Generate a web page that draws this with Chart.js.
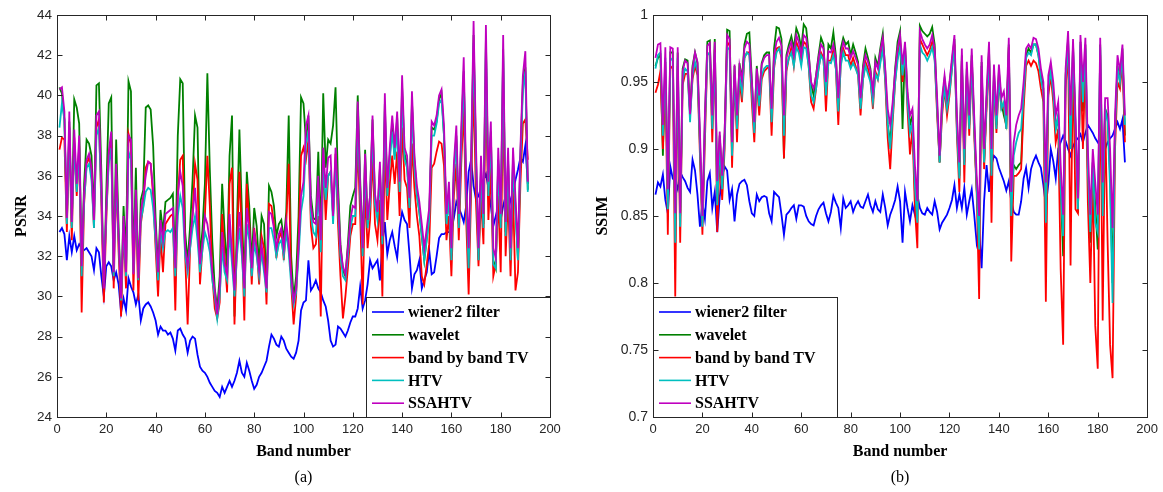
<!DOCTYPE html>
<html>
<head>
<meta charset="utf-8">
<script src="https://cdn.jsdelivr.net/npm/chart.js@4"></script>
<style>
  body { margin: 0; background: #fff; }
  .panel { position: absolute; top: 0; height: 492px; }
  #left { left: 0; width: 580px; }
  #right { left: 581px; width: 582px; }
</style>
</head>
<body>
<div class="panel" id="left"><canvas id="psnrChart"></canvas></div>
<div class="panel" id="right"><canvas id="ssimChart"></canvas></div>
<script>
const methods = ["wiener2 filter", "wavelet", "band by band TV", "HTV", "SSAHTV"];
const colors = ["#0000ff", "#008000", "#ff0000", "#00bfbf", "#bf00bf"];

const xTicks = [0, 200, 20];
const psnrTicks = [24, 44, 2];
const ssimTicks = [0.7, 1, 0.05];

// PSNR per band (bands 1..191)
const psnrWiener = [
  33.2, 33.4, 33.1, 31.8, 33.0, 32.2, 33.0, 32.3, 32.6, 32.4,
  32.3, 32.4, 32.2, 32.0, 31.3, 32.4, 32.2, 31.0, 30.0, 31.5,
  31.7, 31.5, 30.8, 31.2, 30.6, 29.2, 29.9, 29.3, 30.9, 30.5,
  30.2, 29.6, 30.1, 28.8, 29.4, 29.6, 29.7, 29.5, 29.2, 28.8,
  28.1, 28.5, 28.3, 28.3, 28.1, 28.2, 27.9, 27.3, 28.3, 28.4,
  28.1, 27.9, 27.2, 27.8, 28.0, 27.9, 27.1, 26.5, 26.3, 26.2,
  26.0, 25.7, 25.5, 25.3, 25.2, 25.0, 25.5, 25.2, 25.5, 25.8,
  25.5, 25.8, 26.2, 26.8, 26.2, 26.0, 26.7, 26.3, 25.8, 25.4,
  25.6, 26.0, 26.2, 26.5, 26.8, 27.5, 28.1, 27.9, 27.6, 27.5,
  28.0, 27.8, 27.4, 27.2, 27.0, 26.9, 27.2, 27.8, 29.3, 29.7,
  29.8, 31.8, 30.3, 30.5, 30.8, 30.4, 30.2, 29.8, 29.5, 28.8,
  27.8, 27.5, 27.6, 28.5, 28.4, 28.2, 28.0, 28.3, 28.7, 29.0,
  29.0, 29.4, 30.5, 29.4, 29.8, 30.6, 31.8, 31.4, 31.6, 31.8,
  30.8, 32.6, 33.7, 32.1, 32.8, 33.2, 32.5, 31.9, 33.4, 34.2,
  33.8, 33.6, 32.1, 30.4, 31.1, 31.3, 31.8, 30.4, 30.8, 31.2,
  32.3, 31.1, 31.2, 32.0, 32.9, 33.1, 33.1, 33.2, 33.2, 33.3,
  33.9, 34.7, 34.4, 34.1, 33.7, 34.5, 36.2, 36.8, 35.5, 34.8,
  35.0, 35.4, 35.8, 36.1, 35.4, 34.5, 33.5, 34.0, 34.5, 33.8,
  34.5, 35.0, 34.2, 34.8, 35.2, 35.8, 36.3, 36.9, 36.7, 37.5,
  35.6
];
const psnrWavelet = [
  40.4, 40.1, 38.8, 33.6, 38.7, 33.5, 39.8, 39.4, 38.6, 31.7,
  35.6, 37.8, 37.6, 37.0, 34.0, 40.5, 40.6, 36.2, 30.2, 35.2,
  39.6, 39.9, 31.5, 37.8, 33.4, 29.8, 34.5, 32.0, 40.7, 40.2,
  31.5, 36.4, 30.8, 34.8, 35.3, 39.4, 39.5, 39.3, 37.5, 33.9,
  31.4, 34.3, 33.2, 34.7, 34.8, 34.9, 35.1, 31.6, 38.0, 40.8,
  40.6, 33.2, 31.7, 33.5, 35.8, 39.0, 38.4, 31.9, 33.3, 35.6,
  41.1, 36.3, 32.7, 30.4, 29.4, 31.0, 35.6, 33.2, 31.3, 37.0,
  39.0, 29.0, 33.6, 38.3, 34.2, 30.6, 36.2, 34.5, 31.6, 34.4,
  33.5, 31.5, 34.0, 33.6, 30.4, 35.5, 35.2, 34.5, 33.0, 33.6,
  33.8, 32.8, 34.2, 39.0, 32.0, 29.9, 31.0, 34.0, 39.9, 39.6,
  37.7, 39.0, 35.0, 33.9, 33.8, 37.2, 33.0, 40.1, 36.4, 37.8,
  37.6, 38.5, 40.4, 35.6, 32.6, 31.3, 31.0, 32.6, 34.5, 35.0,
  35.4, 40.0, 35.8, 32.5, 37.3, 33.6, 35.0, 38.8, 34.9, 34.0,
  36.4, 32.8, 39.6, 35.0, 37.0, 38.6, 37.0, 38.9, 35.4, 40.4,
  37.1, 36.6, 34.6, 39.7, 36.8, 35.1, 34.2, 33.0, 31.8, 32.9,
  34.0, 38.4, 38.3, 38.7, 39.8, 40.1, 38.0, 33.6, 35.1, 32.0,
  36.2, 38.0, 33.6, 37.9, 41.2, 35.1, 31.6, 36.4, 43.0, 36.8,
  31.8, 36.4, 33.6, 42.8, 35.1, 38.2, 31.8, 31.4, 36.8, 33.6,
  42.3, 33.2, 36.8, 31.8, 36.9, 34.4, 31.8, 37.0, 40.6, 41.4,
  35.3
];
const psnrBandTV = [
  37.3, 37.9, 37.8, 33.2, 38.4, 32.8, 37.9, 35.0, 37.5, 29.2,
  34.6, 36.6, 36.9, 36.1, 33.4, 38.4, 38.8, 34.5, 29.7, 33.8,
  37.0, 37.8, 30.4, 36.0, 32.2, 29.0, 33.4, 30.4, 38.1, 37.6,
  30.3, 34.6, 29.8, 33.6, 34.5, 36.4, 36.7, 36.6, 35.0, 32.4,
  30.0, 33.0, 31.2, 33.6, 33.8, 34.0, 34.1, 29.3, 35.0, 36.8,
  37.0, 32.0, 28.6, 32.4, 34.1, 36.6, 35.8, 30.6, 32.4, 34.0,
  37.0, 34.5, 31.0, 29.4, 28.9, 29.7, 34.1, 32.0, 30.2, 35.6,
  36.4, 28.6, 32.6, 36.2, 33.0, 28.8, 35.6, 33.6, 30.6, 33.4,
  32.4, 30.6, 33.0, 32.4, 29.6, 34.6, 34.5, 33.6, 31.9, 32.9,
  33.2, 31.8, 33.6, 36.6, 30.6, 28.6, 30.0, 32.8, 37.0, 37.4,
  36.8, 37.8, 33.5, 32.4, 32.6, 34.0, 29.0, 37.0, 33.8, 36.0,
  36.2, 34.0, 37.1, 33.6, 31.0, 28.9, 30.0, 31.4, 33.0, 33.6,
  33.6, 37.6, 34.0, 29.6, 35.4, 32.4, 33.8, 37.0, 33.6, 32.8,
  34.8, 30.0, 37.6, 33.8, 35.6, 37.0, 35.6, 37.2, 34.0, 38.4,
  35.8, 35.4, 33.4, 37.6, 35.4, 34.0, 33.0, 31.0, 30.6, 31.6,
  32.6, 36.4, 36.6, 37.2, 37.7, 37.6, 36.5, 32.8, 34.0, 31.0,
  35.0, 36.6, 32.8, 36.6, 39.4, 33.8, 30.1, 35.2, 40.6, 34.6,
  31.5, 35.0, 32.6, 40.4, 33.8, 36.4, 31.0, 31.6, 35.0, 31.2,
  39.8, 32.0, 35.0, 31.0, 35.2, 30.3, 31.2, 35.6, 38.6, 38.8,
  36.8
];
const psnrHTV = [
  38.4, 39.6, 38.8, 33.6, 38.4, 33.4, 37.6, 35.2, 37.4, 31.0,
  34.8, 36.4, 36.6, 35.8, 33.4, 38.0, 38.4, 35.0, 30.6, 34.2,
  36.6, 37.4, 31.0, 36.0, 32.8, 29.8, 33.6, 31.0, 37.2, 36.8,
  31.2, 34.8, 30.8, 33.8, 34.4, 35.2, 35.4, 35.3, 34.4, 32.8,
  30.8, 33.2, 32.4, 33.2, 33.3, 33.2, 33.4, 31.0, 34.0, 35.0,
  34.4, 32.0, 31.2, 32.4, 33.4, 34.0, 32.8, 31.2, 32.3, 33.2,
  32.8, 32.2, 30.8, 30.0, 28.9, 30.0, 32.4, 31.2, 30.8, 33.2,
  31.6, 30.0, 32.0, 33.4, 32.0, 30.0, 33.6, 32.8, 31.0, 32.6,
  32.0, 31.0, 32.2, 31.2, 30.2, 33.4, 33.4, 32.8, 32.0, 32.6,
  32.8, 32.0, 33.2, 32.2, 30.6, 29.6, 30.2, 32.0, 34.2, 35.0,
  37.6, 38.2, 34.0, 33.2, 33.0, 35.2, 32.2, 36.4, 34.8, 36.0,
  36.2, 33.6, 36.6, 34.4, 32.0, 31.0, 30.8, 32.0, 33.4, 34.0,
  34.0, 38.8, 35.0, 32.0, 36.4, 33.4, 34.6, 38.2, 34.6, 33.8,
  36.0, 32.6, 39.2, 35.0, 36.8, 38.2, 36.8, 38.4, 35.2, 40.0,
  36.8, 36.4, 34.4, 39.4, 36.4, 35.0, 34.2, 33.0, 31.8, 32.8,
  33.8, 38.0, 38.0, 38.6, 39.6, 39.8, 38.0, 33.6, 35.0, 31.8,
  36.0, 37.8, 33.4, 37.6, 41.0, 35.0, 31.4, 36.2, 42.6, 36.6,
  31.8, 36.2, 33.4, 42.4, 35.0, 38.0, 31.6, 31.4, 36.6, 33.4,
  42.0, 33.0, 36.6, 31.8, 36.6, 34.2, 31.8, 36.8, 40.2, 41.2,
  35.2
];
const psnrSSAHTV = [
  40.3, 40.4, 39.2, 33.9, 39.2, 33.7, 38.3, 35.6, 38.0, 31.5,
  35.2, 36.8, 37.1, 36.4, 33.8, 39.0, 39.2, 35.5, 30.4, 34.5,
  37.2, 38.2, 31.2, 36.6, 33.0, 29.9, 34.0, 31.2, 38.0, 37.8,
  31.1, 35.3, 30.9, 34.2, 35.0, 36.0, 36.7, 36.6, 35.3, 33.4,
  31.2, 33.8, 32.8, 34.1, 34.2, 34.3, 34.4, 31.4, 35.0, 36.2,
  35.5, 32.4, 31.5, 32.8, 34.0, 35.4, 33.4, 31.6, 32.7, 34.0,
  33.6, 32.7, 31.2, 30.3, 29.1, 30.5, 33.2, 31.6, 31.1, 34.1,
  32.1, 30.3, 32.4, 34.2, 32.4, 30.4, 34.4, 33.3, 31.4, 33.2,
  32.4, 31.3, 32.6, 31.5, 30.4, 34.2, 34.1, 33.4, 32.4, 33.1,
  33.4, 32.4, 33.7, 32.6, 31.0, 29.8, 30.4, 32.4, 35.0, 35.7,
  38.5, 39.0, 34.5, 33.7, 33.6, 36.0, 32.8, 37.4, 35.4, 36.9,
  37.0, 34.0, 37.4, 35.0, 32.4, 31.5, 31.1, 32.4, 33.8, 34.5,
  34.4, 39.7, 35.4, 32.4, 37.1, 33.8, 35.0, 39.0, 35.1, 34.2,
  36.7, 33.0, 40.1, 35.4, 37.4, 39.0, 37.4, 39.2, 35.7, 41.0,
  37.4, 37.0, 34.9, 40.2, 37.0, 35.5, 34.7, 33.6, 32.4, 33.4,
  34.4, 38.7, 38.5, 39.0, 40.0, 40.3, 38.5, 34.1, 35.7, 32.4,
  36.6, 38.5, 34.1, 38.4, 41.9, 35.7, 32.4, 37.0, 43.7, 37.4,
  32.4, 37.0, 34.1, 43.5, 35.7, 38.7, 32.4, 31.9, 37.4, 34.1,
  43.0, 33.7, 37.4, 32.4, 37.4, 34.9, 32.4, 37.4, 41.0, 42.2,
  35.7
];

// SSIM per band (bands 1..191)
const ssimWiener = [
  0.866, 0.875, 0.872, 0.881, 0.862, 0.852, 0.887, 0.878, 0.876, 0.870,
  0.883, 0.879, 0.876, 0.871, 0.868, 0.892, 0.884, 0.866, 0.842, 0.860,
  0.848, 0.876, 0.882, 0.856, 0.868, 0.838, 0.864, 0.880, 0.887, 0.884,
  0.862, 0.870, 0.846, 0.866, 0.874, 0.876, 0.877, 0.873, 0.861, 0.852,
  0.850, 0.866, 0.861, 0.864, 0.865, 0.864, 0.852, 0.846, 0.868, 0.866,
  0.864, 0.851, 0.836, 0.851, 0.853, 0.856, 0.858, 0.848, 0.858, 0.858,
  0.857, 0.850, 0.846, 0.844, 0.843, 0.850, 0.855, 0.858, 0.860, 0.852,
  0.846, 0.853, 0.865, 0.860, 0.856, 0.841, 0.863, 0.856, 0.858, 0.861,
  0.853, 0.858, 0.861, 0.857, 0.856, 0.861, 0.866, 0.858, 0.853, 0.861,
  0.855, 0.853, 0.866, 0.856, 0.843, 0.851, 0.856, 0.862, 0.872, 0.861,
  0.830, 0.868, 0.856, 0.846, 0.858, 0.851, 0.866, 0.856, 0.852, 0.851,
  0.856, 0.853, 0.851, 0.861, 0.853, 0.840, 0.845, 0.848, 0.851, 0.856,
  0.862, 0.873, 0.856, 0.866, 0.856, 0.871, 0.851, 0.861, 0.870, 0.851,
  0.830, 0.840, 0.811, 0.861, 0.888, 0.868, 0.888, 0.895, 0.893, 0.886,
  0.881, 0.876, 0.869, 0.876, 0.861, 0.853, 0.851, 0.851, 0.861, 0.878,
  0.886, 0.871, 0.885, 0.891, 0.895, 0.890, 0.886, 0.873, 0.858, 0.874,
  0.900, 0.891, 0.878, 0.900, 0.905, 0.910, 0.906, 0.900, 0.895, 0.902,
  0.906, 0.908, 0.911, 0.905, 0.912, 0.918, 0.915, 0.912, 0.908, 0.905,
  0.902, 0.898, 0.900, 0.905, 0.908, 0.910, 0.915, 0.920, 0.915, 0.922,
  0.890
];
const ssimWavelet = [
  0.962, 0.968, 0.970, 0.895, 0.965, 0.868, 0.972, 0.972, 0.848, 0.972,
  0.850, 0.960, 0.967, 0.966, 0.928, 0.962, 0.972, 0.964, 0.905, 0.845,
  0.922, 0.980, 0.981, 0.922, 0.982, 0.870, 0.910, 0.878, 0.912, 0.989,
  0.988, 0.902, 0.962, 0.918, 0.964, 0.952, 0.978, 0.986, 0.987, 0.952,
  0.915, 0.962, 0.938, 0.964, 0.970, 0.972, 0.972, 0.922, 0.975, 0.991,
  0.990, 0.982, 0.893, 0.970, 0.978, 0.984, 0.975, 0.990, 0.985, 0.975,
  0.993, 0.990, 0.972, 0.948, 0.940, 0.955, 0.970, 0.983, 0.978, 0.945,
  0.978, 0.975, 0.987, 0.970, 0.932, 0.975, 0.983, 0.978, 0.980, 0.970,
  0.978, 0.972, 0.965, 0.932, 0.962, 0.975, 0.968, 0.960, 0.940, 0.968,
  0.962, 0.975, 0.986, 0.958, 0.918, 0.905, 0.930, 0.960, 0.980, 0.988,
  0.915, 0.978, 0.940, 0.918, 0.925, 0.868, 0.858, 0.992, 0.988, 0.986,
  0.984, 0.986, 0.991, 0.978, 0.932, 0.890, 0.935, 0.952, 0.935, 0.948,
  0.965, 0.982, 0.918, 0.880, 0.970, 0.890, 0.960, 0.918, 0.970, 0.918,
  0.870, 0.835, 0.965, 0.890, 0.935, 0.975, 0.890, 0.958, 0.918, 0.958,
  0.935, 0.925, 0.918, 0.978, 0.858, 0.888, 0.885, 0.888, 0.890, 0.940,
  0.970, 0.975, 0.972, 0.978, 0.978, 0.970, 0.955, 0.945, 0.860, 0.945,
  0.960, 0.942, 0.915, 0.925, 0.870, 0.820, 0.955, 0.982, 0.910, 0.978,
  0.915, 0.852, 0.980, 0.928, 0.978, 0.885, 0.830, 0.890, 0.858, 0.825,
  0.978, 0.860, 0.930, 0.925, 0.880, 0.800, 0.915, 0.962, 0.950, 0.975,
  0.910
];
const ssimBandTV = [
  0.942, 0.948, 0.958, 0.900, 0.952, 0.836, 0.962, 0.960, 0.790, 0.962,
  0.830, 0.948, 0.956, 0.956, 0.926, 0.952, 0.962, 0.955, 0.895, 0.836,
  0.905, 0.970, 0.972, 0.905, 0.974, 0.838, 0.895, 0.862, 0.900, 0.980,
  0.977, 0.886, 0.955, 0.905, 0.952, 0.935, 0.968, 0.972, 0.972, 0.935,
  0.905, 0.950, 0.925, 0.952, 0.958, 0.960, 0.962, 0.910, 0.960, 0.975,
  0.976, 0.968, 0.893, 0.958, 0.968, 0.976, 0.962, 0.980, 0.975, 0.965,
  0.980, 0.978, 0.962, 0.935, 0.930, 0.945, 0.960, 0.972, 0.968, 0.928,
  0.966, 0.966, 0.974, 0.960, 0.918, 0.965, 0.975, 0.970, 0.970, 0.962,
  0.968, 0.962, 0.955, 0.925, 0.952, 0.965, 0.960, 0.952, 0.930, 0.958,
  0.952, 0.966, 0.978, 0.950, 0.908, 0.885, 0.920, 0.950, 0.970, 0.980,
  0.950, 0.972, 0.930, 0.896, 0.915, 0.856, 0.826, 0.982, 0.978, 0.974,
  0.970, 0.974, 0.980, 0.968, 0.925, 0.890, 0.925, 0.945, 0.925, 0.940,
  0.960, 0.978, 0.910, 0.868, 0.966, 0.875, 0.955, 0.910, 0.966, 0.910,
  0.868, 0.788, 0.962, 0.885, 0.930, 0.972, 0.845, 0.952, 0.912, 0.952,
  0.930, 0.932, 0.915, 0.976, 0.816, 0.880, 0.880, 0.882, 0.885, 0.930,
  0.962, 0.966, 0.962, 0.966, 0.964, 0.958, 0.945, 0.935, 0.786, 0.940,
  0.955, 0.935, 0.905, 0.915, 0.810, 0.754, 0.945, 0.975, 0.813, 0.970,
  0.855, 0.852, 0.972, 0.900, 0.965, 0.860, 0.800, 0.880, 0.768, 0.736,
  0.970, 0.772, 0.925, 0.830, 0.754, 0.729, 0.900, 0.950, 0.945, 0.965,
  0.905
];
const ssimHTV = [
  0.960, 0.970, 0.972, 0.910, 0.968, 0.855, 0.968, 0.966, 0.830, 0.968,
  0.842, 0.952, 0.960, 0.958, 0.920, 0.955, 0.965, 0.958, 0.902, 0.842,
  0.915, 0.970, 0.972, 0.915, 0.972, 0.858, 0.902, 0.870, 0.905, 0.976,
  0.974, 0.895, 0.955, 0.915, 0.955, 0.942, 0.968, 0.972, 0.970, 0.942,
  0.912, 0.952, 0.932, 0.955, 0.960, 0.962, 0.962, 0.920, 0.962, 0.972,
  0.975, 0.970, 0.910, 0.960, 0.968, 0.972, 0.962, 0.976, 0.972, 0.962,
  0.976, 0.975, 0.962, 0.940, 0.935, 0.945, 0.960, 0.970, 0.966, 0.940,
  0.965, 0.964, 0.970, 0.960, 0.928, 0.962, 0.972, 0.966, 0.966, 0.960,
  0.964, 0.960, 0.955, 0.930, 0.952, 0.962, 0.956, 0.950, 0.935, 0.956,
  0.952, 0.964, 0.975, 0.952, 0.918, 0.900, 0.925, 0.950, 0.966, 0.976,
  0.955, 0.972, 0.935, 0.912, 0.920, 0.872, 0.845, 0.978, 0.972, 0.970,
  0.966, 0.970, 0.976, 0.966, 0.930, 0.890, 0.930, 0.946, 0.930, 0.942,
  0.960, 0.976, 0.915, 0.878, 0.966, 0.888, 0.956, 0.915, 0.966, 0.915,
  0.872, 0.825, 0.962, 0.890, 0.935, 0.970, 0.880, 0.954, 0.915, 0.954,
  0.930, 0.935, 0.915, 0.974, 0.850, 0.895, 0.905, 0.912, 0.915, 0.940,
  0.968, 0.972, 0.970, 0.978, 0.978, 0.970, 0.952, 0.942, 0.845, 0.946,
  0.958, 0.942, 0.915, 0.925, 0.870, 0.835, 0.952, 0.980, 0.900, 0.975,
  0.915, 0.855, 0.978, 0.935, 0.975, 0.885, 0.838, 0.890, 0.845, 0.838,
  0.976, 0.850, 0.930, 0.920, 0.870, 0.785, 0.915, 0.960, 0.950, 0.970,
  0.918
];
const ssimSSAHTV = [
  0.968, 0.978, 0.979, 0.918, 0.976, 0.870, 0.976, 0.975, 0.852, 0.976,
  0.852, 0.958, 0.966, 0.964, 0.926, 0.960, 0.972, 0.965, 0.913, 0.850,
  0.925, 0.977, 0.979, 0.925, 0.980, 0.876, 0.913, 0.880, 0.913, 0.985,
  0.982, 0.905, 0.963, 0.925, 0.962, 0.951, 0.975, 0.980, 0.978, 0.950,
  0.920, 0.960, 0.940, 0.963, 0.968, 0.970, 0.970, 0.930, 0.970, 0.980,
  0.983, 0.977, 0.925, 0.968, 0.975, 0.980, 0.970, 0.985, 0.980, 0.970,
  0.985, 0.983, 0.970, 0.950, 0.945, 0.955, 0.968, 0.978, 0.975, 0.950,
  0.973, 0.972, 0.978, 0.968, 0.938, 0.970, 0.980, 0.975, 0.975, 0.968,
  0.973, 0.968, 0.963, 0.938, 0.960, 0.970, 0.965, 0.958, 0.943, 0.965,
  0.960, 0.973, 0.983, 0.960, 0.930, 0.918, 0.935, 0.958, 0.975, 0.985,
  0.963, 0.980, 0.943, 0.925, 0.930, 0.888, 0.861, 0.988, 0.982, 0.978,
  0.975, 0.978, 0.985, 0.975, 0.938, 0.895, 0.938, 0.955, 0.938, 0.950,
  0.968, 0.985, 0.925, 0.890, 0.975, 0.900, 0.965, 0.925, 0.975, 0.925,
  0.880, 0.850, 0.970, 0.900, 0.943, 0.980, 0.900, 0.963, 0.925, 0.963,
  0.938, 0.943, 0.925, 0.983, 0.868, 0.905, 0.918, 0.925, 0.930, 0.950,
  0.975, 0.978, 0.975, 0.983, 0.982, 0.975, 0.960, 0.950, 0.875, 0.955,
  0.965, 0.950, 0.925, 0.935, 0.888, 0.851, 0.960, 0.988, 0.925, 0.982,
  0.925, 0.863, 0.985, 0.950, 0.983, 0.900, 0.851, 0.900, 0.875, 0.851,
  0.983, 0.875, 0.938, 0.938, 0.900, 0.841, 0.925, 0.970, 0.958, 0.978,
  0.925
];

const tickFont = { family: "'Liberation Sans', Arial, sans-serif", size: 13 };
const labelFont = "'Liberation Serif', 'Times New Roman', serif";

function strokeLine(ctx, x1, y1, x2, y2) {
  ctx.beginPath();
  ctx.moveTo(x1, y1);
  ctx.lineTo(x2, y2);
  ctx.stroke();
}

// MATLAB-like frame: box, inward ticks, legend box and titles
const matlabFrame = {
  id: "matlabFrame",
  afterDatasetsDraw(chart, args, opts) {
    const { ctx, chartArea: a, scales: { x, y } } = chart;
    ctx.save();

    // legend
    const w = 184, h = 120;
    const lx = Math.round(opts.legendLeft ? a.left : a.right - w);
    const ly = Math.round(a.bottom - h);
    ctx.fillStyle = "#fff";
    ctx.fillRect(lx, ly, w, h);
    ctx.font = "bold 16px " + labelFont;
    ctx.textBaseline = "middle";
    ctx.textAlign = "left";
    chart.data.datasets.forEach((ds, i) => {
      const ry = ly + 15 + i * 22.8;
      ctx.strokeStyle = ds.borderColor;
      ctx.lineWidth = 1.6;
      strokeLine(ctx, lx + 6, ry, lx + 38, ry);
      ctx.fillStyle = "#000";
      ctx.fillText(ds.label, lx + 42, ry + 1);
    });
    ctx.strokeStyle = "#262626";
    ctx.lineWidth = 1;
    ctx.strokeRect(lx + 0.5, ly + 0.5, w, h);

    // box and ticks
    const L = Math.round(a.left) + 0.5, R = Math.round(a.right) + 0.5;
    const T = Math.round(a.top) + 0.5, B = Math.round(a.bottom) + 0.5;
    ctx.strokeRect(L, T, R - L, B - T);
    x.ticks.forEach(t => {
      const px = Math.round(x.getPixelForValue(t.value)) + 0.5;
      strokeLine(ctx, px, B, px, B - 5);
      strokeLine(ctx, px, T, px, T + 5);
    });
    y.ticks.forEach(t => {
      const py = Math.round(y.getPixelForValue(t.value)) + 0.5;
      strokeLine(ctx, L, py, L + 5, py);
      strokeLine(ctx, R, py, R - 5, py);
    });
    ctx.restore();
  },
  afterDraw(chart, args, opts) {
    const { ctx, chartArea: a } = chart;
    const cx = (a.left + a.right) / 2;
    ctx.save();
    ctx.fillStyle = "#000";
    ctx.textAlign = "center";
    ctx.textBaseline = "middle";
    ctx.font = "bold 16px " + labelFont;
    ctx.fillText(opts.xTitle, cx, 452);
    ctx.font = "16px " + labelFont;
    ctx.fillText(opts.caption, cx, 478);
    ctx.translate(opts.yTitleX, (a.top + a.bottom) / 2);
    ctx.rotate(-Math.PI / 2);
    ctx.font = "bold 16px " + labelFont;
    ctx.fillText(opts.yTitle, 0, 0);
    ctx.restore();
  }
};

function buildDatasets(series) {
  return series.map((vals, i) => ({
    label: methods[i],
    data: vals.map((v, k) => ({ x: k + 1, y: v })),
    borderColor: colors[i],
    backgroundColor: colors[i],
    borderWidth: 1.8,
    pointRadius: 0,
    tension: 0,
    fill: false,
    order: series.length - i
  }));
}

function buildOptions(yTicks, yWidth, padRight, yFontSize, frame) {
  return {
    responsive: true,
    maintainAspectRatio: false,
    animation: false,
    layout: { padding: { top: 15, right: padRight, left: 0, bottom: 0 } },
    plugins: { legend: { display: false }, tooltip: { enabled: false }, matlabFrame: frame },
    scales: {
      x: {
        type: "linear",
        min: xTicks[0], max: xTicks[1],
        ticks: { stepSize: xTicks[2], padding: 5, font: tickFont, color: "#262626", maxRotation: 0, autoSkip: false },
        grid: { display: false, drawTicks: false },
        border: { display: false },
        afterFit: s => { s.height = 75; }
      },
      y: {
        min: yTicks[0], max: yTicks[1],
        ticks: {
          stepSize: yTicks[2], padding: 5, color: "#262626", autoSkip: false,
          font: { family: tickFont.family, size: yFontSize },
          callback: v => String(Number(v.toFixed(2)))
        },
        grid: { display: false, drawTicks: false },
        border: { display: false },
        afterFit: s => { s.width = yWidth; }
      }
    }
  };
}

new Chart(document.getElementById("psnrChart"), {
  type: "line",
  data: { datasets: buildDatasets([psnrWiener, psnrWavelet, psnrBandTV, psnrHTV, psnrSSAHTV]) },
  options: buildOptions(psnrTicks, 57, 30, 13.5, { xTitle: "Band number", yTitle: "PSNR", caption: "(a)", yTitleX: 22, legendLeft: false }),
  plugins: [matlabFrame]
});

new Chart(document.getElementById("ssimChart"), {
  type: "line",
  data: { datasets: buildDatasets([ssimWiener, ssimWavelet, ssimBandTV, ssimHTV, ssimSSAHTV]) },
  options: buildOptions(ssimTicks, 72, 15, 14, { xTitle: "Band number", yTitle: "SSIM", caption: "(b)", yTitleX: 22, legendLeft: true }),
  plugins: [matlabFrame]
});
</script>
</body>
</html>
